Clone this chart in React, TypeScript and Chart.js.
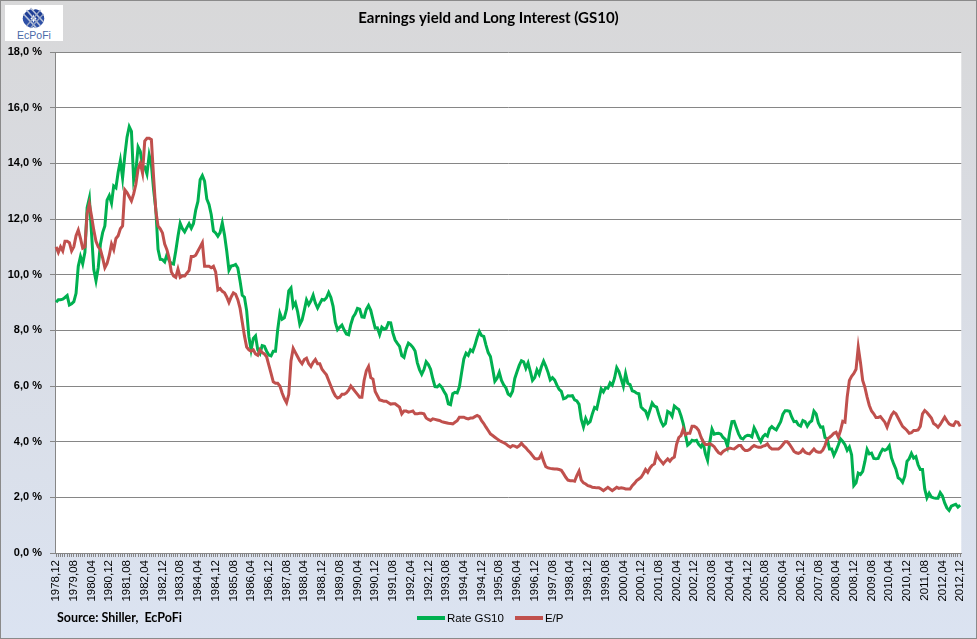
import React, { useEffect, useRef } from 'react';
import { Chart, registerables } from 'chart.js';

Chart.register(...registerables);

// Monthly observations from 1978,12 to 2012,12
const FIRST_YEAR = 1978;
const FIRST_MONTH = 12;
const LABEL_EVERY = 8;

// Rate GS10 (%), one row per year (first row = Dec 1978)
const rateGS10: number[] = [
  9.01,
  9.10, 9.10, 9.12, 9.18, 9.25, 8.91, 8.95, 9.03, 9.33, 10.30, 10.65, 10.39,
  10.80, 12.41, 12.75, 11.47, 10.18, 9.78, 10.25, 11.10, 11.51, 11.75, 12.68, 12.84,
  12.57, 13.19, 13.12, 13.68, 14.10, 13.47, 14.28, 14.94, 15.32, 15.15, 13.39, 13.72,
  14.59, 14.43, 13.86, 13.87, 13.62, 14.30, 13.95, 13.06, 12.34, 10.91, 10.55, 10.54,
  10.46, 10.72, 10.51, 10.40, 10.38, 10.85, 11.38, 11.85, 11.65, 11.54, 11.69, 11.83,
  11.67, 11.84, 12.32, 12.63, 13.41, 13.56, 13.36, 12.72, 12.52, 12.16, 11.57, 11.50,
  11.38, 11.51, 11.86, 11.43, 10.85, 10.16, 10.31, 10.33, 10.37, 10.24, 9.78, 9.26,
  9.19, 8.70, 7.78, 7.30, 7.71, 7.80, 7.30, 7.17, 7.45, 7.43, 7.25, 7.11,
  7.08, 7.25, 7.25, 8.02, 8.61, 8.40, 8.45, 8.76, 9.42, 9.52, 8.86, 8.99,
  8.67, 8.21, 8.37, 8.72, 9.09, 8.92, 9.06, 9.26, 8.98, 8.80, 8.96, 9.11,
  9.09, 9.17, 9.36, 9.18, 8.86, 8.28, 8.02, 8.11, 8.19, 8.01, 7.87, 7.84,
  8.21, 8.47, 8.59, 8.79, 8.76, 8.48, 8.47, 8.75, 8.89, 8.72, 8.39, 8.08,
  8.09, 7.85, 8.11, 8.04, 8.07, 8.28, 8.27, 7.90, 7.65, 7.53, 7.42, 7.09,
  7.03, 7.34, 7.54, 7.48, 7.39, 7.26, 6.84, 6.59, 6.42, 6.59, 6.87, 6.77,
  6.60, 6.26, 5.98, 5.97, 6.04, 5.96, 5.81, 5.68, 5.36, 5.33, 5.72, 5.77,
  5.75, 5.97, 6.48, 6.97, 7.18, 7.10, 7.30, 7.24, 7.46, 7.74, 7.96, 7.81,
  7.78, 7.47, 7.20, 7.06, 6.63, 6.17, 6.28, 6.49, 6.20, 6.04, 5.93, 5.71,
  5.65, 5.81, 6.27, 6.51, 6.74, 6.91, 6.87, 6.64, 6.83, 6.53, 6.20, 6.30,
  6.58, 6.42, 6.69, 6.89, 6.71, 6.49, 6.22, 6.30, 6.21, 6.03, 5.88, 5.81,
  5.54, 5.57, 5.65, 5.64, 5.65, 5.50, 5.46, 5.34, 4.81, 4.53, 4.83, 4.65,
  4.72, 5.00, 5.23, 5.18, 5.54, 5.90, 5.79, 5.94, 5.92, 6.11, 6.03, 6.28,
  6.66, 6.52, 6.26, 5.99, 6.44, 6.10, 6.05, 5.83, 5.80, 5.74, 5.72, 5.24,
  5.16, 5.10, 4.89, 5.14, 5.39, 5.28, 5.24, 4.97, 4.73, 4.57, 4.65, 5.09,
  5.04, 4.91, 5.28, 5.21, 5.16, 4.93, 4.65, 4.26, 3.87, 3.94, 4.05, 4.03,
  4.05, 3.90, 3.81, 3.96, 3.57, 3.33, 3.98, 4.45, 4.27, 4.29, 4.30, 4.27,
  4.15, 4.08, 3.83, 4.35, 4.72, 4.73, 4.50, 4.28, 4.13, 4.10, 4.19, 4.23,
  4.22, 4.17, 4.50, 4.34, 4.14, 4.00, 4.18, 4.26, 4.20, 4.46, 4.54, 4.47,
  4.42, 4.57, 4.72, 4.99, 5.11, 5.11, 5.09, 4.88, 4.72, 4.73, 4.60, 4.56,
  4.76, 4.72, 4.56, 4.69, 4.75, 5.10, 5.00, 4.67, 4.52, 4.53, 4.15, 4.10,
  3.74, 3.74, 3.51, 3.68, 3.88, 4.10, 4.01, 3.89, 3.69, 3.81, 3.53, 2.42,
  2.52, 2.87, 2.82, 2.93, 3.29, 3.72, 3.56, 3.59, 3.40, 3.39, 3.40, 3.59,
  3.73, 3.69, 3.73, 3.85, 3.42, 3.20, 3.01, 2.70, 2.65, 2.54, 2.76, 3.29,
  3.39, 3.58, 3.41, 3.46, 3.17, 3.00, 3.00, 2.30, 1.98, 2.15, 2.01, 1.98,
  1.97, 1.97, 2.17, 2.05, 1.80, 1.62, 1.53, 1.68, 1.72, 1.75, 1.65, 1.72,
];

// E/P (%), one row per year (first row = Dec 1978)
const earningsYield: number[] = [
  11.0,
  10.8, 11.0, 10.85, 11.2, 11.2, 11.15, 10.85, 11.0, 11.4, 11.6, 11.3, 10.95,
  11.0, 12.2, 12.55, 12.1, 11.6, 11.2, 11.0, 10.9, 10.6, 10.25, 10.4, 10.7,
  11.1, 10.9, 11.3, 11.4, 11.65, 11.75, 13.05, 12.95, 12.8, 12.65, 12.9, 13.25,
  13.8, 14.0, 13.65, 14.8, 14.9, 14.9, 14.85, 13.5, 12.3, 11.75, 11.65, 11.5,
  11.1, 10.9, 10.6, 10.1, 9.95, 9.9, 10.2, 9.9, 9.95, 9.95, 10.05, 10.15,
  10.65, 10.65, 10.7, 10.85, 11.0, 11.15, 10.3, 10.3, 10.3, 10.25, 10.3, 10.1,
  9.45, 9.5, 9.4, 9.35, 9.2, 9.0, 9.2, 9.35, 9.3, 9.1, 8.8, 8.3,
  7.8, 7.4, 7.3, 7.25, 7.3, 7.15, 7.1, 7.3, 7.2, 7.15, 7.05, 6.75,
  6.45, 6.15, 6.1, 6.1, 6.0, 5.75, 5.55, 5.4, 5.7, 6.9, 7.35, 7.2,
  7.05, 6.9, 6.8, 6.95, 7.0, 6.8, 6.7, 6.85, 6.95, 6.8, 6.8, 6.6,
  6.5, 6.4, 6.2, 6.0, 5.8, 5.65, 5.57, 5.6, 5.7, 5.7, 5.75, 5.85,
  6.0, 5.9, 5.8, 5.7, 5.6, 5.6, 6.2, 6.55, 6.7, 6.3, 6.25, 5.8,
  5.65, 5.5, 5.48, 5.45, 5.45, 5.4, 5.35, 5.36, 5.36, 5.3, 5.24, 5.0,
  5.1, 5.1, 5.06, 5.08, 5.1, 5.0, 5.0, 5.02, 5.02, 5.0, 4.85, 4.8,
  4.76, 4.82, 4.8, 4.78, 4.76, 4.72, 4.7, 4.68, 4.66, 4.65, 4.64, 4.7,
  4.75, 4.88, 4.88, 4.88, 4.84, 4.82, 4.85, 4.85, 4.9, 4.94, 4.9, 4.75,
  4.65, 4.52, 4.4, 4.28, 4.22, 4.16, 4.1, 4.04, 4.0, 3.96, 3.92, 3.85,
  3.8, 3.86, 3.84, 3.8, 3.85, 3.94, 3.85, 3.78, 3.68, 3.6, 3.5, 3.4,
  3.38, 3.4, 3.55, 3.3, 3.1, 3.06, 3.04, 3.03, 3.02, 3.02, 3.0, 2.97,
  2.85, 2.72, 2.62, 2.6, 2.6, 2.58, 2.78, 2.94, 2.62, 2.52, 2.48, 2.42,
  2.4, 2.36, 2.35, 2.34, 2.34, 2.3, 2.24, 2.3, 2.36, 2.3, 2.24, 2.3,
  2.36, 2.32, 2.34, 2.33, 2.3, 2.3, 2.3, 2.42, 2.5, 2.6, 2.66, 2.72,
  2.85, 3.0, 2.9, 3.05, 3.15, 3.2, 3.55, 3.4, 3.3, 3.2, 3.3, 3.38,
  3.3, 3.4, 3.45, 3.9, 4.15, 4.22, 4.45, 4.25, 4.3, 4.3, 4.55, 4.55,
  4.5, 4.4, 4.17, 4.0, 3.9, 3.9, 3.93, 3.88, 3.82, 3.7, 3.6, 3.56,
  3.65, 3.7, 3.74, 3.77, 3.75, 3.74, 3.8, 3.86, 3.86, 3.75, 3.68, 3.68,
  3.72, 3.8, 3.86, 3.82, 3.8, 3.8, 3.84, 3.86, 3.92, 3.8, 3.74, 3.74,
  3.74, 3.74, 3.8, 3.9, 4.0, 4.0, 3.9, 3.78, 3.65, 3.6, 3.58, 3.62,
  3.72, 3.62, 3.58, 3.56, 3.65, 3.74, 3.65, 3.62, 3.62, 3.7, 3.86, 4.1,
  4.15, 4.22, 4.3, 4.34, 4.16, 4.4, 4.73, 4.7, 5.6, 6.2, 6.35, 6.45,
  6.6, 7.4, 6.85, 6.2, 5.95, 5.6, 5.3, 5.1, 5.0, 4.87, 4.87, 4.9,
  4.8, 4.7, 4.52, 4.75, 4.95, 5.06, 5.0, 4.85, 4.7, 4.55, 4.48, 4.4,
  4.3, 4.32, 4.4, 4.4, 4.42, 4.55, 5.0, 5.12, 5.05, 4.95, 4.85, 4.65,
  4.6, 4.52, 4.62, 4.75, 4.88, 4.75, 4.64, 4.6, 4.58, 4.72, 4.7, 4.55,
];

const TITLE = 'Earnings yield and Long Interest (GS10)';
const SERIES_NAMES = ['Rate GS10', 'E/P'];
const SERIES_COLORS = ['#00b050', '#c0504d'];
const SOURCE_TEXT = 'Source: Shiller,  EcPoFi';

const monthLabels: string[] = rateGS10.map((_, i) => {
  const total = FIRST_MONTH - 1 + i;
  const year = FIRST_YEAR + Math.floor(total / 12);
  const month = (total % 12) + 1;
  return `${year},${month < 10 ? '0' + month : month}`;
});

const W = 977;
const H = 639;

const plotBackground = {
  id: 'plotBackground',
  beforeDraw(chart: any) {
    const { ctx, chartArea } = chart;
    if (!chartArea) return;
    ctx.save();
    ctx.fillStyle = '#ffffff';
    ctx.fillRect(chartArea.left, chartArea.top, chartArea.right - chartArea.left, chartArea.bottom - chartArea.top);
    ctx.restore();
  },
};

export default function App() {
  const canvasRef = useRef<HTMLCanvasElement | null>(null);

  useEffect(() => {
    document.body.style.margin = '0';
    const canvas = canvasRef.current;
    if (!canvas) return;
    const chart = new Chart(canvas, {
      type: 'line',
      data: {
        labels: monthLabels,
        datasets: [
          {
            label: SERIES_NAMES[0],
            data: rateGS10,
            borderColor: SERIES_COLORS[0],
            backgroundColor: SERIES_COLORS[0],
            borderWidth: 3,
            pointRadius: 0,
            tension: 0,
            order: 1,
          },
          {
            label: SERIES_NAMES[1],
            data: earningsYield,
            borderColor: SERIES_COLORS[1],
            backgroundColor: SERIES_COLORS[1],
            borderWidth: 3,
            pointRadius: 0,
            tension: 0,
            order: 0,
          },
        ],
      },
      plugins: [plotBackground],
      options: {
        responsive: false,
        animation: false,
        devicePixelRatio: 1,
        layout: { padding: 0 },
        plugins: {
          legend: { display: false },
          tooltip: { enabled: false },
          title: {
            display: true,
            text: TITLE,
            color: '#000',
            font: { family: 'Lato, "Open Sans", sans-serif', size: 15, weight: 'bold', lineHeight: 1.2 },
            padding: { top: 9, bottom: 25 },
          },
        },
        scales: {
          x: {
            type: 'category',
            offset: true,
            grid: {
              display: true,
              drawOnChartArea: false,
              drawTicks: true,
              tickLength: 4,
              color: '#868686',
              offset: false,
            },
            border: { display: true, color: '#868686', width: 1 },
            ticks: {
              autoSkip: false,
              maxRotation: 90,
              minRotation: 90,
              padding: 3,
              color: '#000',
              font: { family: '"Liberation Sans", Arial, sans-serif', size: 11.5 },
              callback: (_v: any, i: number) => (i % LABEL_EVERY === 0 ? monthLabels[i] : ''),
            },
            afterFit: (s: any) => {
              s.height = 86;
            },
          },
          y: {
            min: 0,
            max: 18,
            ticks: {
              stepSize: 2,
              padding: 8,
              color: '#000',
              font: { family: '"Liberation Sans", Arial, sans-serif', size: 11, weight: 'bold' },
              callback: (v: any) => Number(v).toFixed(1).replace('.', ',') + ' %',
            },
            grid: { color: '#868686', lineWidth: 1, tickLength: 5 },
            border: { color: '#868686', width: 1 },
            afterFit: (s: any) => {
              s.width = 55;
            },
          },
          yRightGap: {
            position: 'right',
            display: true,
            min: 0,
            max: 18,
            grid: { display: false, drawOnChartArea: false, drawTicks: false },
            border: { display: false },
            ticks: { display: false },
            afterFit: (s: any) => {
              s.width = 15;
            },
          },
        },
      },
    } as any);
    return () => chart.destroy();
  }, []);

  return (
    <div
      style={{
        position: 'relative',
        width: W,
        height: H,
        overflow: 'hidden',
        background: 'linear-gradient(180deg, #d8d8d9 0%, #d9dce3 40%, #dbe3f1 100%)',
      }}
    >
      <canvas ref={canvasRef} width={W} height={H} style={{ position: 'absolute', left: 0, top: 0 }} />

      {/* logo */}
      <div style={{ position: 'absolute', left: 5, top: 5, width: 58, height: 36, background: '#fff' }}>
        <svg width={58} height={36} viewBox="0 0 58 36">
          <g transform="translate(28.5,13)">
            <ellipse cx={-5} cy={-3} rx={4} ry={7} transform="rotate(45 -5 -3)" fill="#1f3f96" />
            <ellipse cx={5} cy={-3} rx={4} ry={7} transform="rotate(-45 5 -3)" fill="#1f3f96" />
            <ellipse cx={-5} cy={4} rx={4} ry={7} transform="rotate(-45 -5 4)" fill="#2d4fa6" />
            <ellipse cx={5} cy={4} rx={4} ry={7} transform="rotate(45 5 4)" fill="#2d4fa6" />
            <path d="M-7 -8 L7 8 M-3 -10 L10 4 M-10 -4 L3 10" stroke="#b8c2d8" strokeWidth={1.6} />
            <path d="M7 -8 L-7 8 M10 -4 L-3 10" stroke="#9aa8c6" strokeWidth={1.2} />
          </g>
          <text x={29} y={34} textAnchor="middle" fontFamily='"Liberation Sans", Arial, sans-serif' fontSize={10.5} fill="#4a6aa8">
            EcPoFi
          </text>
        </svg>
      </div>

      {/* source note */}
      <div
        style={{
          position: 'absolute',
          left: 57,
          top: 610,
          fontFamily: 'Lato, "Open Sans", sans-serif',
          fontWeight: 'bold',
          fontSize: 12.5,
          lineHeight: '16px',
          color: '#000',
          whiteSpace: 'pre',
        }}
      >
        {SOURCE_TEXT}
      </div>

      {/* legend */}
      <div
        style={{
          position: 'absolute',
          left: 417,
          top: 610,
          height: 16,
          display: 'flex',
          alignItems: 'center',
          fontFamily: '"Liberation Sans", Arial, sans-serif',
          fontSize: 11.5,
          color: '#000',
        }}
      >
        {SERIES_NAMES.map((name, k) => (
          <div key={name} style={{ display: 'flex', alignItems: 'center', marginRight: k === 0 ? 11 : 0 }}>
            <div style={{ width: 28, height: 4, background: SERIES_COLORS[k], marginRight: 2 }} />
            <span>{name}</span>
          </div>
        ))}
      </div>

      {/* outer frame */}
      <div
        style={{
          position: 'absolute',
          left: 0,
          top: 0,
          width: W,
          height: H,
          boxSizing: 'border-box',
          border: '1px solid #8a8a8a',
          pointerEvents: 'none',
        }}
      />
    </div>
  );
}
